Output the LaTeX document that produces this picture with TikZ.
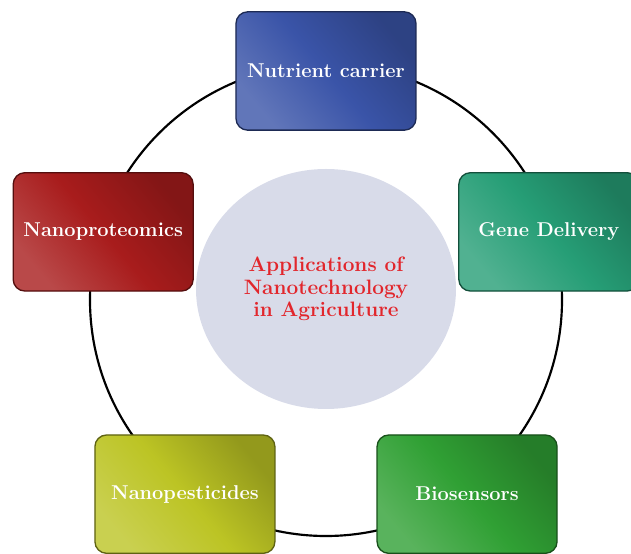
\documentclass[tikz,border=0pt]{standalone}
\usepackage{tikz}
\usetikzlibrary{shapes,positioning,shadows}
\definecolor{agblue}{RGB}{58,84,168}
\definecolor{agteal}{RGB}{38,158,118}
\definecolor{agred}{RGB}{168,28,28}
\definecolor{agyellow}{RGB}{188,196,36}
\definecolor{aggreen}{RGB}{48,160,52}
\definecolor{aghub}{RGB}{216,219,233}
\definecolor{aglabel}{RGB}{226,38,44}
\tikzstyle{appbox} = [rectangle, rounded corners=7pt, minimum width=108pt, minimum height=71pt, line width=0.8pt, text=white, font=\bfseries\fontsize{12}{14}\selectfont]
\tikzset{appfill/.style={top color=#1!78!black, bottom color=#1!80!white, middle color=#1, draw=#1!50!black, shading angle=-50}}
\tikzstyle{ring} = [line width=1.3pt, color=black]

\begin{document}
\begin{tikzpicture}[x=0.6pt, y=0.6pt]
\clip (-326,-254) rectangle (305,300);
% Ring behind the boxes
\coordinate (ringc) at (0,0);
\draw[ring] (ringc) circle (236);

% Centre
\node[ellipse, fill=aghub, minimum width=156pt, minimum height=144pt, align=center, text=aglabel, font=\bfseries\fontsize{12.5}{13.5}\selectfont] (hub) at (0,11) {Applications of\\Nanotechnology\\in Agriculture};

% Boxes
\node[appbox, appfill=agblue] (nutrient) at (90:229) {Nutrient carrier};
\node[appbox, appfill=agteal] (gene) at (17:233) {Gene Delivery};
\node[appbox, appfill=agred] (proteo) at (163:233) {Nanoproteomics};
\node[appbox, appfill=agyellow] (pesti) at (234:240) {Nanopesticides};
\node[appbox, appfill=aggreen] (biosens) at (306:240) {Biosensors};
\end{tikzpicture}
\end{document}
